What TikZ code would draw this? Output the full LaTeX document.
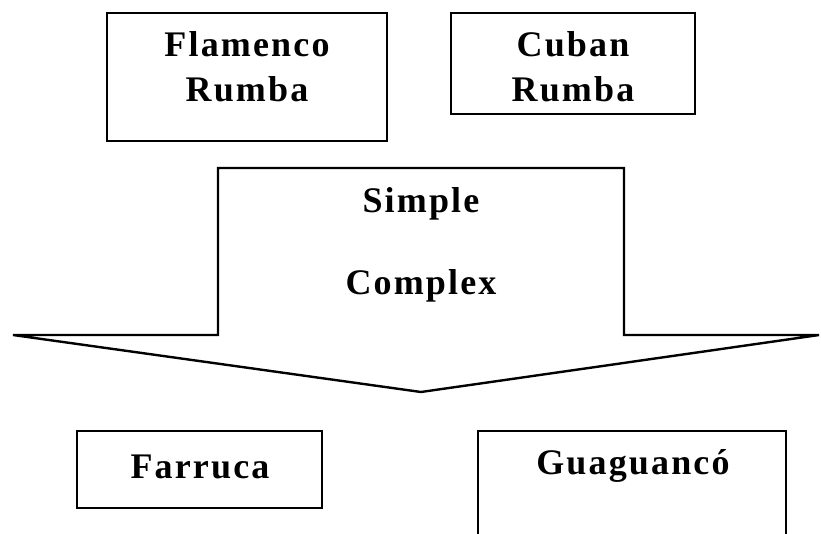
\documentclass[tikz,border=0pt]{standalone}
\usepackage{fontspec}
\setmainfont{Liberation Serif}[LetterSpace=6]
\begin{document}
\begin{tikzpicture}[x=1pt,y=-1pt,
  box/.style={draw,line width=2.8pt},
  lbl/.style={font=\fontsize{36}{42}\selectfont\bfseries,align=center,inner sep=0pt}]
\useasboundingbox (0,0) rectangle (821,534);
% top boxes
\draw[box] (107,13) rectangle (387,141);
\node[lbl] (flam) at (247,44) {Flamenco};
\node[lbl] (flamr) at (247,89) {Rumba};
\draw[box] (451,13) rectangle (695,114);
\node[lbl] (cub) at (573,44) {Cuban};
\node[lbl] (cubr) at (573,89) {Rumba};
% arrow
\draw[line width=2.4pt,line join=miter]
  (13,335) -- (218,335) -- (218,168) -- (624,168) -- (624,335) -- (819,335)
  -- (421,392) -- cycle;
\node[lbl] (simple) at (421,204) {Simple};
\node[lbl] (complex) at (421,286) {Complex};
% bottom boxes
\draw[box] (77,431) rectangle (322,508);
\node[lbl] (farr) at (200,467) {Farruca};
\draw[box] (478,431) rectangle (786,540);
\node[lbl] (guag) at (633,466) {Guaguancó};
\end{tikzpicture}
\end{document}
